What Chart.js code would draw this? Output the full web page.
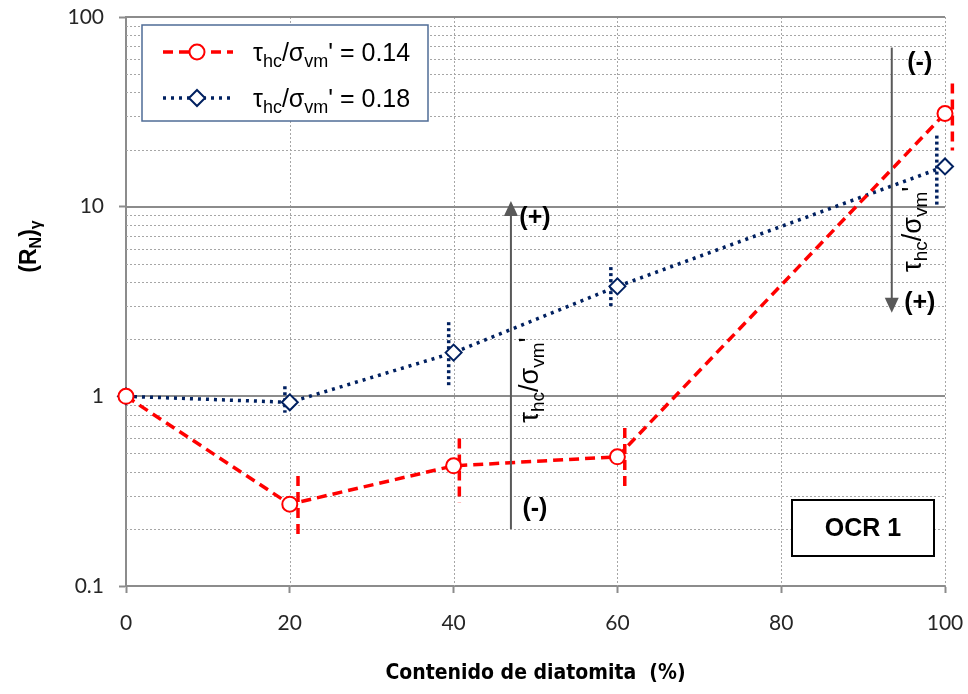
<!DOCTYPE html>
<html>
<head>
<meta charset="utf-8">
<script src="https://cdn.jsdelivr.net/npm/chart.js@4.4.1/dist/chart.umd.min.js"></script>
<style>
  html, body { margin: 0; padding: 0; background: #fff; }
  canvas { display: block; }
</style>
</head>
<body>
<canvas id="chart" width="968" height="694"></canvas>
<script>
// Data
const diatomita = [0, 20, 40, 60, 100];
const rn014 = [1, 0.27, 0.43, 0.48, 31];
const rn018 = [1, 0.93, 1.7, 3.8, 16.3];

// scatter bars (drawn slightly beside each point, as in the figure)
const bar014X = [21, 40.7, 60.9, 100.9];
const bar014Hi = [0.38, 0.6, 0.68, 44.6];
const bar014Lo = [0.175, 0.275, 0.315, 19.8];
const bar018X = [19.4, 39.4, 59.2, 99.0];
const bar018Hi = [1.13, 2.46, 4.8, 23.7];
const bar018Lo = [0.82, 1.14, 2.95, 10.1];

const xTicks = [0, 20, 40, 60, 80, 100];
const yTicks = [0.1, 1, 10, 100];

const RED = '#ff0000';
const NAVY = '#002060';
const GRID = '#a6a6a6';
const AXIS = '#8c8c8c';
const TICK_FONT = "Lato, 'Open Sans', sans-serif";
const TEXT_FONT = "'Liberation Sans', Arial, sans-serif";

// minor log grid: 2..9 inside each decade
const yMinor = [];
for (let i = 0; i < yTicks.length - 1; i++) {
  for (let k = 2; k <= 9; k++) yMinor.push(+(yTicks[i] * k).toPrecision(3));
}

function pts(xs, ys) {
  return xs.map((x, i) => ({x, y: ys[i]}));
}

function barSets(xs, hi, lo, color, dash) {
  return xs.map((x, i) => ({
    data: [{x, y: hi[i]}, {x, y: lo[i]}],
    showLine: true,
    borderColor: color,
    borderWidth: 3.5,
    borderDash: dash,
    pointRadius: 0,
    clip: false,
    order: 2
  }));
}

function noPad(s) {
  s.paddingTop = 0; s.paddingBottom = 0; s.paddingLeft = 0; s.paddingRight = 0;
}

// text with subscripts: parts = [[text, isSub], ...]
function richWidth(ctx, parts, size, weight) {
  let w = 0;
  parts.forEach(([t, sub]) => {
    ctx.font = `${weight} ${sub ? Math.round(size * 0.7) : size}px ${TEXT_FONT}`;
    w += ctx.measureText(t).width;
  });
  return w;
}
function drawRich(ctx, parts, x, y, size, weight, color) {
  ctx.fillStyle = color;
  ctx.textBaseline = 'alphabetic';
  ctx.textAlign = 'left';
  parts.forEach(([t, sub]) => {
    ctx.font = `${weight} ${sub ? Math.round(size * 0.7) : size}px ${TEXT_FONT}`;
    ctx.fillText(t, x, y + (sub ? size * 0.22 : 0));
    x += ctx.measureText(t).width;
  });
}

const ratioParts = (v) => [['τ'], ['hc', true], ['/σ'], ['vm', true], [v]];

function arrow(ctx, x, y0, y1) {
  const dir = y1 > y0 ? 1 : -1;
  ctx.strokeStyle = '#595959';
  ctx.fillStyle = '#595959';
  ctx.lineWidth = 2;
  ctx.beginPath();
  ctx.moveTo(x, y0);
  ctx.lineTo(x, y1 - dir * 12);
  ctx.stroke();
  ctx.beginPath();
  ctx.moveTo(x, y1);
  ctx.lineTo(x - 7, y1 - dir * 15);
  ctx.lineTo(x + 7, y1 - dir * 15);
  ctx.closePath();
  ctx.fill();
}

function label(ctx, t, x, y) {
  ctx.font = `bold 25px ${TEXT_FONT}`;
  ctx.fillStyle = '#000';
  ctx.textAlign = 'center';
  ctx.textBaseline = 'middle';
  ctx.fillText(t, x, y);
}

function rotatedRatio(ctx, cx, cy) {
  const parts = ratioParts("'");
  ctx.save();
  ctx.translate(cx, cy);
  ctx.rotate(-Math.PI / 2);
  const w = richWidth(ctx, parts, 27, 'normal');
  drawRich(ctx, parts, -w / 2, 9, 27, 'normal', '#000');
  ctx.restore();
}

const decor = {
  id: 'decor',
  beforeDatasetsDraw(chart) {
    const {ctx, chartArea: a, scales: {x, y}} = chart;
    ctx.save();
    ctx.lineWidth = 1;
    ctx.strokeStyle = GRID;
    ctx.setLineDash([2, 2]);
    yMinor.forEach(v => {
      const py = Math.round(y.getPixelForValue(v)) + 0.5;
      ctx.beginPath(); ctx.moveTo(a.left, py); ctx.lineTo(a.right, py); ctx.stroke();
    });
    xTicks.slice(1).forEach(v => {
      const px = Math.round(x.getPixelForValue(v)) + 0.5;
      ctx.beginPath(); ctx.moveTo(px, a.top); ctx.lineTo(px, a.bottom); ctx.stroke();
    });
    ctx.setLineDash([]);
    ctx.strokeStyle = AXIS;
    ctx.lineWidth = 2;
    yTicks.slice(1).forEach(v => {
      const py = Math.round(y.getPixelForValue(v));
      ctx.beginPath(); ctx.moveTo(a.left, py); ctx.lineTo(a.right, py); ctx.stroke();
    });
    ctx.restore();
  },
  afterDraw(chart) {
    const {ctx, chartArea: a, scales: {x, y}} = chart;
    ctx.save();

    // legend
    ctx.fillStyle = '#fff';
    ctx.fillRect(142, 25, 286, 96);
    ctx.strokeStyle = '#4f6c96';
    ctx.lineWidth = 1.5;
    ctx.strokeRect(142, 25, 286, 96);

    ctx.lineWidth = 3.5;
    ctx.strokeStyle = RED;
    ctx.setLineDash([10, 6]);
    ctx.beginPath(); ctx.moveTo(163, 52); ctx.lineTo(233, 52); ctx.stroke();
    ctx.setLineDash([]);
    ctx.lineWidth = 2;
    ctx.fillStyle = '#fff';
    ctx.beginPath(); ctx.arc(197, 52, 7.5, 0, Math.PI * 2); ctx.fill(); ctx.stroke();
    drawRich(ctx, ratioParts("' = 0.14"), 253, 61, 25, 'normal', '#000');

    ctx.lineWidth = 3.5;
    ctx.strokeStyle = NAVY;
    ctx.setLineDash([3, 5]);
    ctx.beginPath(); ctx.moveTo(163, 98); ctx.lineTo(230, 98); ctx.stroke();
    ctx.setLineDash([]);
    ctx.lineWidth = 2;
    ctx.fillStyle = '#fff';
    ctx.beginPath();
    ctx.moveTo(197, 90); ctx.lineTo(205, 98); ctx.lineTo(197, 106); ctx.lineTo(189, 98);
    ctx.closePath(); ctx.fill(); ctx.stroke();
    drawRich(ctx, ratioParts("' = 0.18"), 253, 107, 25, 'normal', '#000');

    // direction arrows
    const xl = x.getPixelForValue(47);
    arrow(ctx, xl, y.getPixelForValue(0.2), y.getPixelForValue(10.7));
    label(ctx, '(+)', xl + 24, y.getPixelForValue(8.75));
    label(ctx, '(-)', xl + 24, y.getPixelForValue(0.255));
    rotatedRatio(ctx, xl + 18, y.getPixelForValue(1.22));

    const xr = x.getPixelForValue(93.5);
    arrow(ctx, xr, y.getPixelForValue(69), y.getPixelForValue(2.76));
    label(ctx, '(-)', xr + 28, y.getPixelForValue(57));
    label(ctx, '(+)', xr + 28, y.getPixelForValue(3.1));
    rotatedRatio(ctx, xr + 20, y.getPixelForValue(7.6));

    // OCR box
    ctx.fillStyle = '#fff';
    ctx.fillRect(792, 500, 142, 56);
    ctx.strokeStyle = '#000';
    ctx.lineWidth = 2;
    ctx.strokeRect(792, 500, 142, 56);
    ctx.font = `bold 25px ${TEXT_FONT}`;
    ctx.fillStyle = '#000';
    ctx.textAlign = 'center';
    ctx.textBaseline = 'middle';
    ctx.fillText('OCR 1', 863, 529);

    // y title (R_N)_gamma
    const yParts = [['(R'], ['N', true], [')'], ['γ', true]];
    ctx.translate(36, (a.top + a.bottom) / 2 - 55);
    ctx.rotate(-Math.PI / 2);
    const w = richWidth(ctx, yParts, 23, 'bold');
    drawRich(ctx, yParts, -w / 2, 0, 23, 'bold', '#000');

    ctx.restore();
  }
};

new Chart(document.getElementById('chart'), {
  type: 'scatter',
  data: {
    datasets: [
      {
        data: pts(diatomita, rn014),
        showLine: true,
        borderColor: RED,
        borderWidth: 3.5,
        borderDash: [10, 6],
        pointStyle: 'circle',
        pointRadius: 7.5,
        pointBorderWidth: 2,
        pointBorderColor: RED,
        pointBackgroundColor: '#fff',
        clip: false,
        order: 0
      },
      {
        data: pts(diatomita, rn018),
        showLine: true,
        borderColor: NAVY,
        borderWidth: 3.5,
        borderDash: [3, 5],
        pointStyle: 'rectRot',
        pointRadius: 8,
        pointBorderWidth: 2,
        pointBorderColor: NAVY,
        pointBackgroundColor: '#fff',
        clip: false,
        order: 1
      },
      ...barSets(bar014X, bar014Hi, bar014Lo, RED, [10, 6]),
      ...barSets(bar018X, bar018Hi, bar018Lo, NAVY, [3, 3])
    ]
  },
  options: {
    responsive: false,
    animation: false,
    events: [],
    layout: {padding: {top: 17, right: 23, left: 0, bottom: 0}},
    plugins: {legend: {display: false}, tooltip: {enabled: false}},
    scales: {
      x: {
        type: 'linear',
        min: 0,
        max: 100,
        afterFit: (s) => { s.height = 108; noPad(s); },
        afterBuildTicks: (s) => { s.ticks = xTicks.map(v => ({value: v})); },
        ticks: {
          font: {family: TICK_FONT, size: 21},
          color: '#262626',
          padding: 18,
          maxRotation: 0
        },
        grid: {drawOnChartArea: false, tickLength: 7, tickColor: AXIS, tickWidth: 2},
        border: {color: AXIS, width: 2},
        title: {
          display: true,
          text: 'Contenido de diatomita  (%)',
          font: {family: "'Liberation Sans Narrow', 'DejaVu Sans Condensed', sans-serif", size: 21, weight: 'bold'},
          color: '#000',
          padding: {top: 0, bottom: 8}
        }
      },
      y: {
        type: 'logarithmic',
        min: 0.1,
        max: 100,
        afterFit: (s) => { s.width = 126; noPad(s); },
        afterBuildTicks: (s) => {
          s.ticks = yTicks.map(v => ({value: v, major: true}));
        },
        ticks: {
          autoSkip: false,
          font: {family: TICK_FONT, size: 21},
          color: '#262626',
          padding: 15,
          callback: (v) => String(v)
        },
        grid: {drawOnChartArea: false, tickLength: 7, tickColor: AXIS, tickWidth: 2},
        border: {color: AXIS, width: 2}
      }
    }
  },
  plugins: [decor]
});
</script>
</body>
</html>
